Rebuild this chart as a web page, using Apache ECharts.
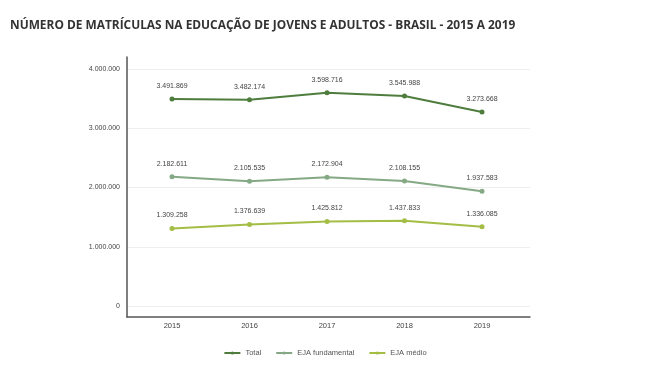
<!DOCTYPE html>
<html>
<head>
<meta charset="utf-8">
<script src="https://cdn.jsdelivr.net/npm/echarts@6/dist/echarts.min.js"></script>
<style>
  html, body { margin: 0; padding: 0; background: #fff; }
  #chart { width: 650px; height: 376px; }
</style>
</head>
<body>
<div id="chart"></div>
<script>
// dados
var anos = ['2015', '2016', '2017', '2018', '2019']
var total = [3491869, 3482174, 3598716, 3545988, 3273668]
var ejaFundamental = [2182611, 2105535, 2172904, 2108155, 1937583]
var ejaMedio = [1309258, 1376639, 1425812, 1437833, 1336085]
var yTicks = [0, 1000000, 2000000, 3000000, 4000000]

var cores = ['#4e7d3e', '#84a984', '#a3bd45']

function fmt (v) {
  return String(v).replace(/\B(?=(\d{3})+(?!\d))/g, '.')
}

var myChart = echarts.init(document.getElementById('chart'))

function serie (nome, dados, cor) {
  return {
    name: nome,
    type: 'line',
    xAxisIndex: 2,
    yAxisIndex: 2,
    data: dados,
    symbol: 'circle',
    symbolSize: 5,
    lineStyle: { width: 2, color: cor },
    itemStyle: { color: cor },
    label: {
      show: true,
      position: 'top',
      distance: 7,
      fontSize: 7,
      fontFamily: 'Liberation Sans',
      color: '#444',
      formatter: function (p) { return fmt(p.value) }
    }
  }
}

var option = {
  animation: false,
  title: {
    text: 'NÚMERO DE MATRÍCULAS NA EDUCAÇÃO DE JOVENS E ADULTOS - BRASIL - 2015 A 2019',
    left: 5,
    top: 15,
    textStyle: {
      fontFamily: 'Open Sans',
      fontWeight: 'bold',
      fontSize: 11.9,
      color: '#333'
    }
  },
  legend: {
    bottom: 14,
    left: 'center',
    itemWidth: 16,
    itemHeight: 4,
    itemGap: 14,
    textStyle: { fontSize: 7.5, color: '#555', fontFamily: 'Liberation Sans' },
    data: ['Total', 'EJA fundamental', 'EJA médio']
  },
  grid: [
    // moldura dos eixos
    { left: 127, right: 120, top: 57, bottom: 59 },
    // linhas de grade
    { left: 127, right: 120, top: 69, bottom: 70 },
    // dados
    { left: 172, right: 168, top: 69, bottom: 70 }
  ],
  xAxis: [
    {
      gridIndex: 0, type: 'value', min: 0, max: 1,
      axisLine: { show: true, lineStyle: { color: '#555', width: 1.5 } },
      axisTick: { show: false }, axisLabel: { show: false }, splitLine: { show: false }
    },
    {
      gridIndex: 1, type: 'value', min: 0, max: 1, show: false
    },
    {
      gridIndex: 2, type: 'category', data: anos, boundaryGap: false,
      offset: 11,
      axisLine: { show: false }, axisTick: { show: false },
      axisLabel: { margin: 5, fontSize: 7.5, color: '#444', fontFamily: 'Liberation Sans' },
      splitLine: { show: false }
    }
  ],
  yAxis: [
    {
      gridIndex: 0, type: 'value', min: 0, max: 1,
      axisLine: { show: true, lineStyle: { color: '#555', width: 1.5 } },
      axisTick: { show: false }, axisLabel: { show: false }, splitLine: { show: false }
    },
    {
      gridIndex: 1, type: 'value', min: yTicks[0], max: yTicks[yTicks.length - 1], interval: 1000000,
      axisLine: { show: false }, axisTick: { show: false },
      axisLabel: {
        margin: 7, fontSize: 7, color: '#444', fontFamily: 'Liberation Sans',
        formatter: function (v) { return fmt(v) }
      },
      splitLine: { show: true, lineStyle: { color: '#eeeeee', width: 1 } }
    },
    {
      gridIndex: 2, type: 'value', min: 0, max: 4000000, show: false
    }
  ],
  series: [
    serie('Total', total, cores[0]),
    serie('EJA fundamental', ejaFundamental, cores[1]),
    serie('EJA médio', ejaMedio, cores[2])
  ]
}

myChart.setOption(option, true)
</script>
</body>
</html>
